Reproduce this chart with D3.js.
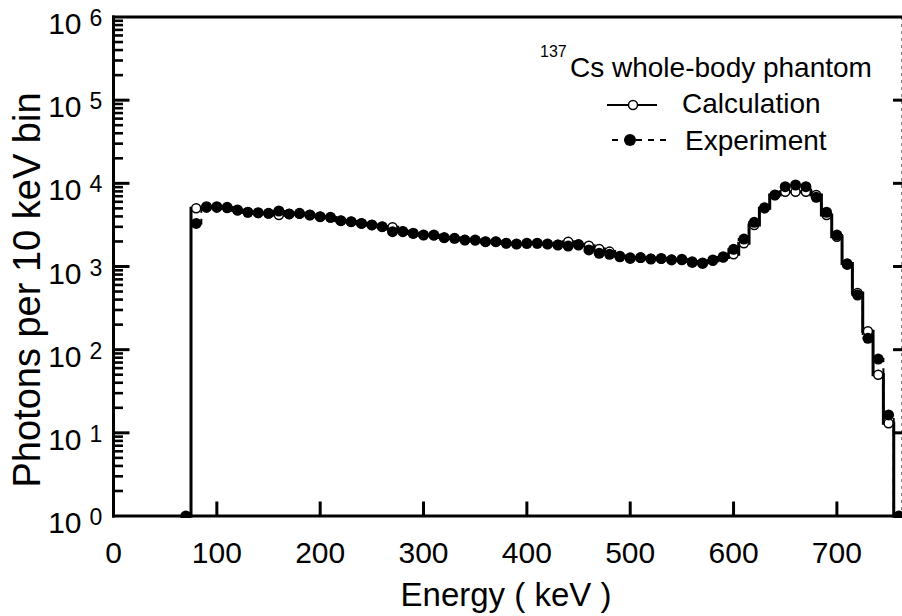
<!DOCTYPE html>
<html><head><meta charset="utf-8">
<script src="https://cdn.jsdelivr.net/npm/d3@7"></script>
<style>
html,body{margin:0;padding:0;background:#fff;}
svg{display:block;font-family:"Liberation Sans",Arial,Helvetica,sans-serif;}
</style></head>
<body><svg id="chart" width="902" height="616"></svg>
<script>
// Bin centres (keV), 10 keV wide bins
const energies = [70,80,90,100,110,120,130,140,150,160,170,180,190,200,210,220,230,240,250,260,270,280,290,300,310,320,330,340,350,360,370,380,390,400,410,420,430,440,450,460,470,480,490,500,510,520,530,540,550,560,570,580,590,600,610,620,630,640,650,660,670,680,690,700,710,720,730,740,750,760];
// Calculation (solid histogram, open circles); 0 = empty bin
const calculation = [0,5010,5100,5100,5050,4750,4500,4400,4350,4160,4280,4300,4160,3970,3880,3560,3460,3300,3150,3000,2960,2650,2500,2400,2380,2230,2180,2080,2070,1990,1980,1910,1870,1890,1900,1870,1830,1990,1850,1780,1620,1510,1340,1280,1270,1240,1240,1210,1200,1150,1110,1170,1280,1400,1900,3160,5010,7240,7900,7900,7900,7240,4160,2280,1090,480,167,50,13,0];
// Experiment (dashed histogram, filled circles)
const experiment = [1,3300,5240,5240,5150,4780,4490,4440,4360,4650,4280,4360,4160,3970,3900,3560,3460,3300,3160,3010,2620,2620,2510,2390,2390,2220,2180,2080,2080,1990,1990,1900,1860,1900,1900,1860,1810,1760,1810,1580,1440,1400,1310,1250,1280,1230,1250,1200,1220,1120,1090,1200,1310,1610,2140,3400,5090,7240,9110,9550,9110,6790,4490,2390,1060,454,137,77,16.4,1];
const xTicks = [0,100,200,300,400,500,600,700];
const yExponents = [0,1,2,3,4,5,6];
const binWidth = 10;

const svg = d3.select("#chart");
const L = 113.5, R = 902, T = 17, B = 516;
const x = d3.scaleLinear().domain([0, 763]).range([L, R]);
const y = d3.scaleLog().domain([1, 1e6]).range([B, T]);

svg.append("defs").append("clipPath").attr("id","clip")
  .append("rect").attr("x",L).attr("y",T-2).attr("width",R-L+2).attr("height",B-T+4);

const plot = svg.append("g").attr("clip-path","url(#clip)");

function stepData(vals){
  const pts = energies.map((e,i)=>({e: e - binWidth/2, v: Math.max(1, vals[i])}));
  pts.push({e: energies[energies.length-1] + binWidth/2, v: Math.max(1, vals[vals.length-1])});
  return pts;
}
const stepLine = d3.line().x(d=>x(d.e)).y(d=>y(d.v)).curve(d3.curveStepAfter);

// experiment dashed histogram
plot.append("path").datum(stepData(experiment))
  .attr("d", stepLine).attr("fill","none").attr("stroke","#000")
  .attr("stroke-width",2).attr("stroke-dasharray","6,6");
// calculation solid histogram
plot.append("path").datum(stepData(calculation))
  .attr("d", stepLine).attr("fill","none").attr("stroke","#000")
  .attr("stroke-width",3);

// calculation open circles
plot.selectAll("circle.calc").data(energies.map((e,i)=>({e, v: calculation[i]})).filter(d=>d.v>0))
  .join("circle").attr("class","calc")
  .attr("cx",d=>x(d.e)).attr("cy",d=>y(d.v)).attr("r",4.5)
  .attr("fill","#fff").attr("stroke","#000").attr("stroke-width",1.5);
// experiment filled circles
plot.selectAll("circle.exp").data(energies.map((e,i)=>({e, v: experiment[i]})).filter(d=>d.v>0))
  .join("circle").attr("class","exp")
  .attr("cx",d=>x(d.e)).attr("cy",d=>y(d.v)).attr("r",5.5)
  .attr("fill","#000");

// Axes frame
const ax = svg.append("g").attr("stroke","#000").attr("stroke-width",3).attr("fill","none");
ax.append("line").attr("x1",L).attr("x2",L).attr("y1",T-1.5).attr("y2",B+1.5);
ax.append("line").attr("x1",L-1.5).attr("x2",R).attr("y1",B).attr("y2",B);
ax.append("line").attr("x1",L-1.5).attr("x2",R).attr("y1",T).attr("y2",T);
ax.append("line").attr("x1",R).attr("x2",R).attr("y1",T).attr("y2",B).attr("stroke-width",1).attr("stroke-dasharray","3,4");

// y ticks (major + minor), inward
const minorVals = [];
for (const k of yExponents.slice(0,-1)) for (let m=2;m<=9;m++) minorVals.push(m*Math.pow(10,k));
ax.selectAll("line.ymin").data(minorVals).join("line")
  .attr("x1",L).attr("x2",L+9.5).attr("y1",d=>y(d)).attr("y2",d=>y(d)).attr("stroke-width",2.6);
ax.selectAll("line.ymaj").data(yExponents.slice(1,-1)).join("line")
  .attr("x1",L).attr("x2",L+16).attr("y1",d=>y(Math.pow(10,d))).attr("y2",d=>y(Math.pow(10,d)));
ax.selectAll("line.ymajr").data(yExponents.slice(1,-1)).join("line")
  .attr("x1",R-9).attr("x2",R).attr("y1",d=>y(Math.pow(10,d))).attr("y2",d=>y(Math.pow(10,d)));
// x ticks
ax.selectAll("line.xt").data(xTicks.slice(1)).join("line")
  .attr("x1",d=>x(d)).attr("x2",d=>x(d)).attr("y1",B).attr("y2",B-14.5);

// tick labels
const lab = svg.append("g").attr("fill","#000");
lab.selectAll("text.xl").data(xTicks).join("text")
  .attr("x",d=>x(d)).attr("y",B+47).attr("text-anchor","middle")
  .attr("font-size",30).text(d=>d);
const yl = lab.selectAll("g.yl").data(yExponents).join("g")
  .attr("transform",d=>`translate(0,${y(Math.pow(10,d))})`);
yl.append("text").attr("x",81.5).attr("y",17).attr("text-anchor","end").attr("font-size",30).text("10");
yl.append("text").attr("x",89.5).attr("y",9).attr("font-size",23).text(d=>d);

// axis titles
lab.append("text").attr("x",506).attr("y",606).attr("text-anchor","middle").attr("font-size",33).text("Energy ( keV )");
lab.append("text").attr("transform","translate(40,290) rotate(-90)").attr("text-anchor","middle").attr("font-size",38).text("Photons per 10 keV bin");

// legend
const lg = svg.append("g");
lg.append("text").attr("x",540).attr("y",57).attr("font-size",16).text("137");
lg.append("text").attr("x",570).attr("y",77).attr("font-size",28).text("Cs whole-body phantom");
lg.append("line").attr("x1",607).attr("x2",657).attr("y1",105).attr("y2",105).attr("stroke","#000").attr("stroke-width",2);
lg.append("circle").attr("cx",633).attr("cy",105).attr("r",4.5).attr("fill","#fff").attr("stroke","#000").attr("stroke-width",1.5);
lg.append("text").attr("x",682).attr("y",113).attr("font-size",28).text("Calculation");
lg.append("line").attr("x1",612).attr("x2",666).attr("y1",140).attr("y2",140).attr("stroke","#000").attr("stroke-width",2).attr("stroke-dasharray","6,6");
lg.append("circle").attr("cx",630).attr("cy",140).attr("r",6).attr("fill","#000");
lg.append("text").attr("x",685).attr("y",150).attr("font-size",28).text("Experiment");
</script></body></html>
